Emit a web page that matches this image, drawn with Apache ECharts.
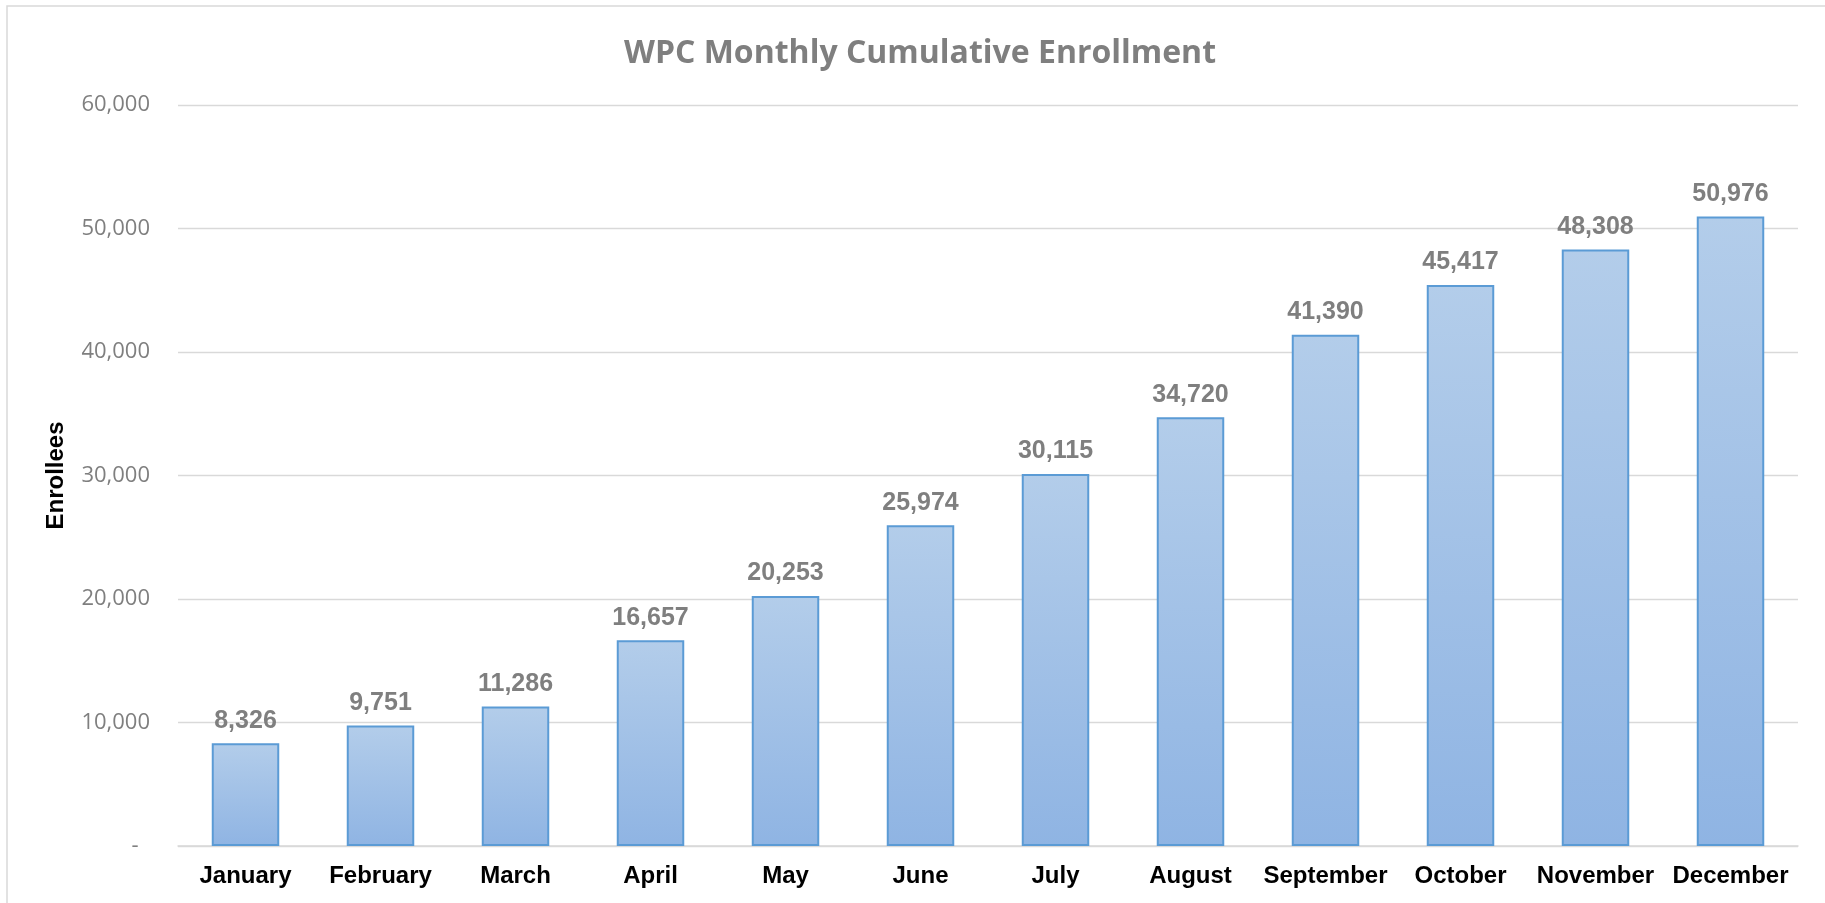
<!DOCTYPE html>
<html>
<head>
<meta charset="utf-8">
<title>WPC Monthly Cumulative Enrollment</title>
<script src="https://cdn.jsdelivr.net/npm/echarts@6/dist/echarts.min.js"></script>
<style>
    html, body { margin: 0; padding: 0; background: #ffffff; }
    #barChart { width: 1825px; height: 903px; }
</style>
</head>
<body>
<div id="barChart"></div>
<script>
// data
var months = ['January', 'February', 'March', 'April', 'May', 'June',
              'July', 'August', 'September', 'October', 'November', 'December'];
var enrollees = [8326, 9751, 11286, 16657, 20253, 25974,
                 30115, 34720, 41390, 45417, 48308, 50976];
var yMin = 0, yMax = 60000, yStep = 10000;

var barChart = echarts.init(document.getElementById('barChart'));

var barOption = {
    animation: false,
    title: {
        text: 'WPC Monthly Cumulative Enrollment',
        left: 915,
        top: 33,
        textAlign: 'center',
        textStyle: {
            fontFamily: 'Open Sans',
            fontWeight: 'bold',
            fontSize: 32,
            color: '#7f7f7f'
        }
    },
    // light frame round the chart, runs off the right and bottom edges
    graphic: [{
        type: 'rect',
        shape: { x: 7, y: 6, width: 1840, height: 930 },
        style: { fill: 'none', stroke: '#d9d9d9', lineWidth: 1.5 },
        silent: true
    }],
    grid: {
        left: 178,
        right: 27,
        top: 105,
        bottom: 57,
        containLabel: false
    },
    xAxis: {
        type: 'category',
        data: months,
        axisTick: { show: false },
        axisLine: {
            lineStyle: { color: '#d9d9d9', width: 1.5 }
        },
        axisLabel: {
            margin: 18,
            interval: 0,
            color: '#000000',
            fontFamily: 'Liberation Sans',
            fontWeight: 'bold',
            fontSize: 24
        }
    },
    yAxis: {
        type: 'value',
        min: yMin,
        max: yMax,
        interval: yStep,
        name: 'Enrollees',
        nameLocation: 'middle',
        nameRotate: 90,
        nameGap: 110,
        nameTextStyle: {
            color: '#000000',
            fontFamily: 'Liberation Sans',
            fontWeight: 'bold',
            fontSize: 24
        },
        axisLine: { show: false },
        axisTick: { show: false },
        axisLabel: {
            margin: 28,
            color: '#7f7f7f',
            fontFamily: 'Open Sans',
            fontSize: 22,
            formatter: function (v) {
                return v === 0 ? '-  ' : v.toLocaleString('en-US');
            }
        },
        splitLine: {
            lineStyle: { color: '#d9d9d9', width: 1.3 }
        }
    },
    series: [{
        name: 'Enrollees',
        type: 'bar',
        barWidth: '50%',
        data: enrollees,
        itemStyle: {
            borderColor: '#5b9bd5',
            borderWidth: 2,
            // Excel style vertical gradient, lighter at the top
            color: new echarts.graphic.LinearGradient(0, 0, 0, 1, [
                { offset: 0, color: '#b3cdea' },
                { offset: 1, color: '#8fb4e3' }
            ])
        },
        label: {
            show: true,
            position: 'top',
            distance: 10,
            color: '#7f7f7f',
            fontFamily: 'Liberation Sans',
            fontWeight: 'bold',
            fontSize: 25,
            formatter: function (p) {
                return p.value.toLocaleString('en-US');
            }
        }
    }]
};

barChart.setOption(barOption);
</script>
</body>
</html>
